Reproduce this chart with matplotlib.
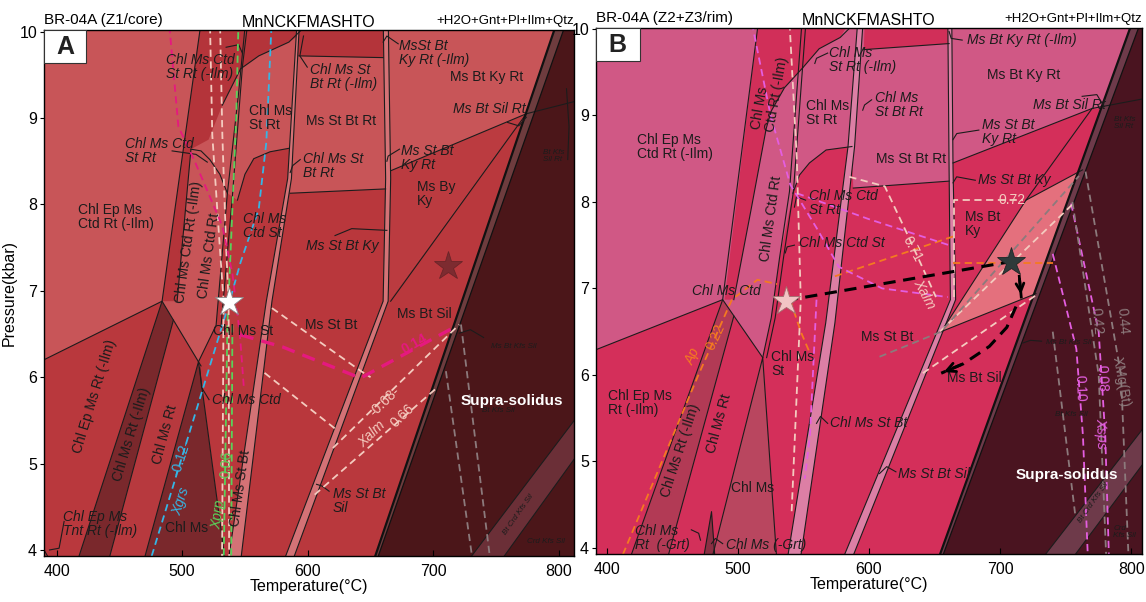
import matplotlib.pyplot as plt
from matplotlib.patches import Polygon, Rectangle

plt.rcParams['font.family'] = ['Liberation Sans', 'DejaVu Sans']

T_TICKS = [400, 500, 600, 700, 800]
P_TICKS = [4, 5, 6, 7, 8, 9, 10]

# ---------------- panel A : BR-04A (Z1/core) ----------------
A_FIELDS = {
    'ep_rt':     [(380, 3.8), (380, 6.13), (484, 6.88), (415, 3.8)],
    'ms_rt_ilm': [(415, 3.8), (484, 6.88), (493, 6.66), (440, 3.8)],
    'ms_rt':     [(440, 3.8), (493, 6.66), (513, 6.18), (468, 3.8)],
    'chl_ms':    [(468, 3.8), (513, 6.18), (535, 3.8)],
    'st_bt':     [(535, 3.8), (513, 6.18), (527, 6.6), (536, 8.13), (544, 8.05), (550, 8.35),
                  (557, 8.53), (570, 8.61), (585, 8.65), (586, 8.13), (664, 8.18), (664, 6.88), (586, 3.8)],
    'ctd_strip': [(484, 6.88), (514, 10.0), (516, 10.2), (600, 10.2), (597, 10.0), (585, 9.88),
                  (561, 9.72), (546.5, 9.57), (532, 9.15), (521, 8.75), (507, 8.64), (496, 6.88)],
    'top_box':   [(591, 9.72), (662, 9.70), (662, 10.2), (593, 10.2)],
    'bt_ky':     [(664, 6.88), (666, 8.39), (774, 9.05)],
    'bt_sil':    [(586, 3.8), (664, 6.88), (774, 9.05), (650.7, 3.8)],
    'melt':      [(650.7, 3.8), (800.5, 10.2), (820, 10.2), (820, 3.8)],
    'melt_edge': [(650.7, 3.8), (800.5, 10.2), (808, 10.2), (653, 3.8)],
    'crd':       [(723.7, 3.8), (820, 5.65), (820, 5.21), (750, 3.8)],
}
A_COLORS = {
    'bg': '#c85558', 'ep_rt': '#b9383d', 'ms_rt_ilm': '#7a282c', 'ms_rt': '#b7393e',
    'chl_ms': '#7a282c', 'st_bt': '#b9373c', 'ctd_strip': '#b4343a', 'top_box': '#b4343a',
    'bt_ky': '#bb3b40', 'bt_sil': '#b9383d', 'melt': '#4b1619', 'melt_edge': '#6e3c3e',
    'crd': '#6b2f37', 'strip': '#d47276',
}
A_STRIPS = [
    ([(536, 3.8), (567, 6.88), (584, 8.3), (591, 10), (592, 10.2)],
     [(546, 3.8), (571.5, 6.88), (587, 8.3), (593, 10), (594, 10.2)]),
    ([(579, 3.8), (660, 6.88), (662, 8.3), (660, 10.2)],
     [(586, 3.8), (664, 6.88), (666, 8.3), (664, 10.2)]),
]
A_BOUNDS = [
    [(415, 3.8), (484, 6.88), (514, 10.0), (516, 10.2)],
    [(440, 3.8), (493, 6.66)],
    [(496, 6.88), (507, 8.64)],
    [(380, 6.13), (484, 6.88), (515, 6.13)],
    [(468, 3.8), (513, 6.18), (535, 3.8)],
    [(513, 6.18), (527, 6.6), (536, 8.13), (545, 9.3), (551, 10.2)],
    [(531, 6.6), (540, 8.1), (548, 9.6), (553, 10.2)],
    [(507, 8.64), (515, 8.62), (522, 8.52), (530, 8.35), (536, 8.13)],
    [(532, 9.15), (546.5, 9.57), (561, 9.72), (585, 9.88), (597, 10.05), (598, 10.2)],
    [(544, 8.05), (550, 8.35), (557, 8.53), (570, 8.61), (585, 8.65)],
    [(586, 8.13), (662, 8.18)],
    [(593, 9.72), (660, 9.70)],
    [(666, 8.39), (774, 9.05), (820, 9.22)],
    [(666, 6.88), (774, 9.05)],
    [(723.7, 3.8), (820, 5.65)],
    [(750, 3.8), (820, 5.21)],
    [(380, 4.25), (398, 3.8)],
]
A_LEADERS = [
    [(535, 9.82), (545, 9.85), (548, 9.75)],
    [(672, 9.86), (663, 9.95), (660, 9.88)],
    [(599.6, 9.59), (593.7, 9.72), (596.6, 9.95)],
    [(759, 8.95), (768, 8.91), (774, 9.01)],
    [(594, 8.52), (588, 8.45), (586, 8.37)],
    [(673, 8.64), (664, 8.56), (663, 8.5)],
    [(621.7, 7.64), (635, 7.72), (663, 7.70)],
    [(521.4, 5.74), (515.5, 5.88), (514, 6.11)],
    [(740, 6.46), (729.5, 6.55), (720.6, 6.51)],
    [(617, 4.68), (611.4, 4.74), (607, 4.76)],
    [(406, 4.33), (402, 4.02), (394.4, 4.0)],
    [(806, 9.34), (808, 8.9), (807, 8.52)],
    [(492, 8.62), (511, 8.58), (520, 8.49)],
]
A_ISO = [
    ('cyan',  [(473, 3.8), (537.6, 6.87), (546.5, 7.33), (561, 7.95), (567, 8.72), (571.5, 10.2)]),
    ('green', [(533, 3.8), (536, 6.6), (539, 7.6), (543, 9.0), (545, 10.2)]),
    ('green', [(539, 3.8), (540, 6.6)]),
    ('pale',  [(522, 10.2), (524, 8.8), (530, 7.5), (533, 6.88), (531.7, 3.8)]),
    ('pale',  [(530, 10.2), (532, 8.8), (535, 7.5), (537, 6.88), (537.4, 3.8)]),
    ('pale',  [(571.5, 6.8), (642.4, 6.07), (650, 6.0)]),
    ('pale',  [(565.6, 6.05), (623, 5.39)]),
    ('pale',  [(620, 5.18), (720.6, 6.61)]),
    ('pale',  [(605.5, 4.64), (703, 5.88)]),
    ('magenta', [(489, 10.2), (497, 8.9), (510, 8.5), (532, 7.75), (540, 7.2), (546, 6.49), (549, 5.9)]),
    ('grey',  [(710, 6.07), (732, 3.8)]),
    ('grey',  [(722, 6.61), (746, 3.8)]),
]
A_ISO_BOLD = [('magenta', [(546.5, 6.49), (580, 6.35), (642, 5.99), (718, 6.59)])]
A_LABELS = [
    ('Chl Ms Ctd\nSt Rt (-Ilm)', 514.6, 9.59, 0, 'i'),
    ('Chl Ms\nSt Rt', 570, 9.0, 0, 'n'),
    ('Chl Ms St\nBt Rt (-Ilm)', 628.5, 9.48, 0, 'i'),
    ('MsSt Bt\nKy Rt (-Ilm)', 700.5, 9.75, 0, 'i'),
    ('Ms Bt Ky Rt', 742.8, 9.47, 0, 'n'),
    ('Ms Bt Sil Rt', 744.8, 9.10, 0, 'i'),
    ('Ms St Bt Rt', 626.7, 8.97, 0, 'n'),
    ('Chl Ms Ctd\nSt Rt', 481.5, 8.62, 0, 'i'),
    ('Chl Ms St\nBt Rt', 620.3, 8.45, 0, 'i'),
    ('Ms St Bt\nKy Rt', 695.5, 8.54, 0, 'i'),
    ('Ms By\nKy', 702, 8.12, 0, 'n'),
    ('Chl Ep Ms\nCtd Rt (-Ilm)', 447.6, 7.85, 0, 'n'),
    ('Chl Ms Ctd Rt (-Ilm)', 505, 7.56, 82, 'n'),
    ('Chl Ms Ctd Rt', 521.4, 7.41, 82, 'n'),
    ('Chl Ms\nCtd St', 565.6, 7.75, 0, 'i'),
    ('Ms St Bt Ky', 627.6, 7.52, 0, 'i'),
    ('Chl Ms St', 548.5, 6.53, 0, 'n'),
    ('Ms St Bt', 618.8, 6.60, 0, 'n'),
    ('Ms Bt Sil', 692.6, 6.73, 0, 'n'),
    ('Ms Bt Kfs Sil', 764, 6.36, 0, 't'),
    ('Chl Ms Ctd', 551, 5.74, 0, 'i'),
    ('Chl Ep Ms Rt (-Ilm)', 430, 5.78, 73, 'n'),
    ('Chl Ms Rt (-Ilm)', 459.4, 5.34, 73, 'n'),
    ('Chl Ms Rt', 486, 5.34, 75, 'n'),
    ('Chl Ms', 503.7, 4.25, 0, 'n'),
    ('Chl Ep Ms\nTnt Rt (-Ilm)', 434.3, 4.30, 0, 'i'),
    ('Chl Ms St Bt', 546.5, 4.72, 82, 'n'),
    ('Ms St Bt\nSil', 641, 4.57, 0, 'i'),
    ('Bt Kfs Sil', 751.6, 5.61, 0, 't'),
    ('Supra-solidus', 762.5, 5.73, 0, 'melt'),
    ('Bt Crd Kfs Sil', 768, 4.41, 55, 't'),
    ('Crd Kfs Sil', 790, 4.1, 0, 't'),
    ('Bt Kfs\nSil Rt', 796, 8.56, 0, 't'),
    ('Xgrs', 499, 4.56, 72, 'cyan_i'),
    ('-0.12-', 499.5, 5.07, 72, 'cyan'),
    ('Xprp', 528.7, 4.41, 82, 'green_i'),
    ('0.06', 535, 4.99, 86, 'green'),
    ('Xalm', 651, 5.34, 44, 'pale_i'),
    ('-0.68-', 661.6, 5.72, 44, 'pale'),
    ('0.66', 675, 5.55, 44, 'pale'),
    ('0.14', 685, 6.38, 29, 'magenta_b'),
]
A_STARS = [(537.5, 6.87, 'white', '#8a8a8a'), (711.8, 7.29, '#7d2b30', '#6a2428')]

# ---------------- panel B : BR-04A (Z2+Z3/rim) ----------------
B_FIELDS = {
    'ep_rt':     [(380, 3.8), (380, 6.22), (488.5, 6.87), (416, 3.8)],
    'ms_rt_ilm': [(416, 3.8), (488.5, 6.87), (497, 6.68), (445, 3.8)],
    'ms_rt':     [(445, 3.8), (497, 6.68), (519, 6.2), (479, 3.8)],
    'chl_ms':    [(479, 3.8), (519, 6.2), (530, 3.8)],
    'grt_out':   [(473, 3.8), (480, 4.42), (483, 3.8)],
    'st_bt':     [(530, 3.8), (519, 6.2), (525.5, 6.66), (531.8, 7.35), (542, 8.1), (547, 8.31),
                  (554.6, 8.45), (567.3, 8.6), (587, 8.64), (588, 8.16), (663, 8.24), (666, 6.87), (588, 3.8)],
    'ctd_strip': [(489.9, 6.87), (515.2, 10.02), (516, 10.2), (590, 10.2), (578, 9.9), (562, 9.77),
                  (549.5, 9.55), (535.6, 9.32), (525.5, 9.05), (521.7, 8.85), (510, 7.9), (497, 6.87)],
    'top_box':   [(596, 9.76), (661, 9.83), (661, 10.2), (597, 10.2)],
    'bt_ky':     [(655, 6.5), (663, 6.87), (664, 8.45), (770, 9.08), (719.6, 8.02)],
    'bt_sil':    [(585, 3.8), (655, 6.5), (719.6, 8.02), (770, 9.08), (776.8, 9.08), (651.1, 3.8)],
    'sil_hi':    [(654.9, 6.50), (719.6, 8.02), (762.7, 8.37), (727.2, 6.94)],
    'melt':      [(651.1, 3.8), (803.5, 10.2), (820, 10.2), (820, 3.8)],
    'melt_edge': [(651.1, 3.8), (803.5, 10.2), (810, 10.2), (653.5, 3.8)],
    'crd':       [(728, 3.8), (820, 5.6), (820, 5.2), (751, 3.8)],
}
B_COLORS = {
    'bg': '#d05885', 'ep_rt': '#d42f5a', 'ms_rt_ilm': '#b23a55', 'ms_rt': '#d3305a',
    'chl_ms': '#b9465f', 'grt_out': '#8a2f43', 'st_bt': '#d42f5a', 'ctd_strip': '#d12f59',
    'top_box': '#d12f59', 'bt_ky': '#d42f5a', 'bt_sil': '#d42f5a', 'sil_hi': '#e4707d',
    'melt': '#4a1420', 'melt_edge': '#6e3a4a', 'crd': '#6e3a4a', 'strip': '#dc7fa5',
}
B_STRIPS = [
    ([(537, 3.8), (567, 6.6), (584, 8.64), (592, 10.2)],
     [(547, 3.8), (574, 6.6), (589, 8.64), (596, 10.2)]),
    ([(578, 3.8), (662, 6.87), (661, 8.4), (660, 10.2)],
     [(585, 3.8), (666, 6.87), (664, 8.4), (663, 10.2)]),
]
B_BOUNDS = [
    [(416, 3.8), (488.5, 6.87), (515.2, 10.02), (516, 10.2)],
    [(445, 3.8), (497, 6.68)],
    [(497, 6.87), (510, 7.9), (521.7, 8.85), (525.5, 9.05), (535.6, 9.32), (549.5, 9.55)],
    [(549.5, 9.55), (562, 9.77), (578, 9.9), (588, 10.05), (590, 10.2)],
    [(380, 6.22), (488.5, 6.87), (519, 6.2)],
    [(479, 3.8), (519, 6.2), (530, 3.8)],
    [(473, 3.8), (480, 4.42), (483, 3.8)],
    [(519, 6.2), (525.5, 6.66), (531.8, 7.35), (539.4, 8.12), (549.5, 10.2)],
    [(522, 6.2), (528.5, 6.66), (534.8, 7.35), (542.4, 8.12), (552.5, 10.2)],
    [(542, 8.1), (547, 8.31), (554.6, 8.45), (567.3, 8.6), (587, 8.64)],
    [(588, 8.16), (661, 8.24)],
    [(596, 9.76), (661, 9.83)],
    [(664, 8.45), (770, 9.08), (812, 9.2)],
    [(655, 6.5), (719.6, 8.02), (770, 9.08)],
    [(719.6, 8.02), (762.7, 8.37)],
    [(654.9, 6.5), (727.2, 6.94)],
    [(728, 3.8), (820, 5.6)],
    [(751, 3.8), (820, 5.2)],
]
B_LEADERS = [
    [(568.5, 9.72), (560, 9.66), (558.7, 9.6)],
    [(671, 9.87), (662.6, 9.89), (661, 9.97)],
    [(602, 9.18), (596.6, 9.12), (595.2, 9.06)],
    [(683.7, 8.83), (666.9, 8.79), (664, 8.72)],
    [(762.4, 9.22), (773.6, 9.24), (779.2, 9.1)],
    [(681, 8.25), (666.8, 8.29), (664, 8.22)],
    [(551.7, 8.02), (544.7, 8.06), (543.2, 7.94)],
    [(543.2, 7.5), (537.6, 7.48), (536.2, 7.41)],
    [(568.5, 5.44), (563, 5.52), (560, 5.44)],
    [(620.5, 4.88), (613.5, 4.94), (608, 4.86)],
    [(464.6, 4.21), (470.2, 4.17), (471.6, 4.09)],
    [(488.5, 4.05), (482.9, 4.11), (480, 4.05)],
    [(731.5, 6.39), (723, 6.40), (717.4, 6.37)],
]
B_ISO = [
    ('orange', [(409, 3.8), (470, 6.0), (495.5, 6.87), (515, 7.1), (530, 7.05)]),
    ('orange', [(537, 7.0), (548, 6.5), (555, 6.25)]),
    ('orange', [(574, 7.14), (664, 7.6)]),
    ('orange', [(664, 7.29), (740, 7.29)]),
    ('lilac',  [(509, 10.2), (525, 9.0), (540, 8.2), (560, 7.7), (577, 7.25), (610, 7.0), (660, 6.9)]),
    ('lilac',  [(545, 8.1), (600, 7.8), (661, 7.5)]),
    ('lilac',  [(560, 6.87), (555, 5.3), (551, 4.8)]),
    ('lilac',  [(740, 7.4), (758, 6.3), (763, 5.3), (767, 3.8)]),
    ('lilac',  [(754, 7.98), (775, 6.5), (780, 5.3), (783, 3.8)]),
    ('pale',   [(585, 8.29), (612, 8.18), (630, 7.6), (651, 6.9)]),
    ('pale',   [(665, 6.9), (665, 8.02), (717, 8.02)]),
    ('pale',   [(641, 6.02), (729, 6.94)]),
    ('pale',   [(654, 6.5), (757, 8.0)]),
    ('pale',   [(539, 10.2), (545, 8.5), (548, 6.87), (541, 4.4)]),
    ('grey',   [(755, 8.0), (775, 6.0), (781, 3.8)]),
    ('grey',   [(765, 8.35), (792, 6.0), (798, 3.8)]),
    ('grey',   [(608, 6.21), (655, 6.5), (760, 8.3)]),
    ('grey',   [(740, 6.5), (757, 4.4)]),
]
B_ISO_BOLD = []
B_LABELS = [
    ('Chl Ep Ms\nCtd Rt (-Ilm)', 452.5, 8.64, 0, 'n'),
    ('Chl Ms\nCtd Rt (-Ilm)', 524.2, 9.26, 80, 'n'),
    ('Chl Ms\nSt Rt (-Ilm)', 595.2, 9.64, 0, 'i'),
    ('Ms Bt Ky Rt (-Ilm)', 716.6, 9.87, 0, 'i'),
    ('Ms Bt Ky Rt', 718, 9.47, 0, 'n'),
    ('Chl Ms\nSt Rt', 568.5, 9.03, 0, 'n'),
    ('Chl Ms\nSt Bt Rt', 622.5, 9.12, 0, 'i'),
    ('Ms Bt Sil Rt', 752.5, 9.12, 0, 'i'),
    ('Ms St Bt\nKy Rt', 706.2, 8.81, 0, 'i'),
    ('Ms St Bt Rt', 631.7, 8.49, 0, 'n'),
    ('Bt Kfs\nSil Rt', 794.7, 8.91, 0, 't'),
    ('Chl Ms Ctd Rt', 525, 7.81, 82, 'n'),
    ('Ms St Bt Ky', 711, 8.25, 0, 'i'),
    ('Chl Ms Ctd\nSt Rt', 580.3, 7.99, 0, 'i'),
    ('Ms Bt\nKy', 686.5, 7.75, 0, 'n'),
    ('Chl Ms Ctd St', 579, 7.52, 0, 'i'),
    ('Chl Ms Ctd', 491.3, 6.97, 0, 'i'),
    ('Ms St Bt', 613.5, 6.44, 0, 'n'),
    ('Chl Ms\nSt', 541.8, 6.13, 0, 'n'),
    ('Ms Bt Sil', 680, 5.96, 0, 'n'),
    ('Ms Bt Kfs Sil', 752.5, 6.37, 0, 't'),
    ('Chl Ep Ms\nRt (-Ilm)', 425.8, 5.67, 0, 'n'),
    ('Chl Ms Rt (-Ilm)', 456.2, 5.13, 72, 'n'),
    ('Chl Ms Rt', 485.7, 5.44, 75, 'n'),
    ('Chl Ms St Bt', 599.4, 5.44, 0, 'i'),
    ('Ms St Bt Sil', 649.2, 4.86, 0, 'i'),
    ('Chl Ms', 511.5, 4.69, 0, 'n'),
    ('Chl Ms\nRt  (-Grt)', 442.7, 4.12, 0, 'i'),
    ('Chl Ms (-Grt)', 521.4, 4.03, 0, 'i'),
    ('Bt Kfs Sil', 754, 5.54, 0, 't'),
    ('Supra-solidus', 751.1, 4.84, 0, 'melt'),
    ('Crd\nKfs Sil', 794.7, 4.19, 0, 't'),
    ('Bt Crd Kfs Sil', 770.8, 4.52, 55, 't'),
    ('0.72', 709, 8.02, 0, 'pale'),
    ('0.71', 633.3, 7.45, -62, 'pale'),
    ('Xalm', 642.2, 6.94, -62, 'pale_i'),
    ('Ap', 466, 6.21, 65, 'orange_i'),
    ('0.22', 482.9, 6.44, 65, 'orange'),
    ('0.10', 761, 5.85, -88, 'lilac'),
    ('0.08', 777.8, 5.96, -88, 'lilac'),
    ('Xsps', 776.4, 5.33, -88, 'lilac_i'),
    ('0.42', 773.6, 6.62, -85, 'grey'),
    ('0.44', 793.3, 6.62, -85, 'grey'),
    ('XMg(Bt)', 792, 5.92, -80, 'grey'),
]
B_STARS = [(536.5, 6.86, '#f2c4c4', '#a07070'), (708.2, 7.31, '#2f3a3a', '#1e2626')]
B_PATH = [(536.5, 6.86), (708.2, 7.31)]
B_DROP = [(714.5, 7.14), (716, 6.9)]
B_CURVE = [(712, 6.79), (705, 6.55), (691.7, 6.33), (672, 6.13), (655, 6.02)]

ISO_COLORS = {'cyan': '#35b6e6', 'green': '#5ad15a', 'pale': '#f4cbbf', 'magenta': '#e5197f',
              'grey': '#8c7a7c', 'orange': '#f47a20', 'lilac': '#e45ee0'}
INK = '#1c1c1c'
FS = 10


def label_style(kind):
    if kind == 'n':
        return dict(fontsize=FS, color=INK)
    if kind == 'i':
        return dict(fontsize=FS, color=INK, style='italic')
    if kind == 't':
        return dict(fontsize=5.8, color=INK, style='italic')
    if kind == 'melt':
        return dict(fontsize=11, color='white', weight='bold')
    base = kind.split('_')[0]
    kw = dict(fontsize=FS, color=ISO_COLORS[base])
    if kind.endswith('_i'):
        kw['style'] = 'italic'
    if kind.endswith('_b'):
        kw['weight'] = 'bold'
    return kw


def xy(pts):
    return [p[0] for p in pts], [p[1] for p in pts]


def draw_panel(ax, fields, colors, strips, bounds, leaders, isos, iso_bold, labels, stars, xlim, ylim):
    ax.set_facecolor(colors['bg'])
    for key, pts in fields.items():
        ax.add_patch(Polygon(pts, closed=True, facecolor=colors[key], edgecolor='none', zorder=1))
    for left, right in strips:
        ax.add_patch(Polygon(left + right[::-1], closed=True, facecolor=colors['strip'],
                             edgecolor='none', zorder=2))
        for edge in (left, right):
            ax.plot(*xy(edge), color=INK, lw=0.8, zorder=3)
    for pts in bounds:
        ax.plot(*xy(pts), color=INK, lw=0.8, zorder=3)
    melt = fields['melt']
    ax.plot(*xy(melt[:2]), color='#111111', lw=1.6, zorder=3)
    edge = fields['melt_edge']
    ax.plot(*xy([edge[3], edge[2]]), color='#111111', lw=0.9, zorder=3)
    for pts in leaders:
        ax.plot(*xy(pts), color=INK, lw=0.8, zorder=3)
    for name, pts in isos:
        ax.plot(*xy(pts), color=ISO_COLORS[name], lw=1.3, dashes=(4, 2.5), zorder=4)
    for name, pts in iso_bold:
        ax.plot(*xy(pts), color=ISO_COLORS[name], lw=2.4, dashes=(4, 2.5), zorder=4)
    for text, t, p, rot, kind in labels:
        ax.text(t, p, text, rotation=rot, ha='center', va='center', multialignment='left',
                rotation_mode='anchor', linespacing=1.0, zorder=5, **label_style(kind))
    for t, p, fc, ec in stars:
        ax.plot(t, p, marker='*', ms=21, mfc=fc, mec=ec, mew=0.6, zorder=7)

    ax.set_xlim(*xlim)
    ax.set_ylim(*ylim)
    ax.set_xticks(T_TICKS)
    ax.set_yticks(P_TICKS)
    ax.tick_params(axis='x', direction='in', length=4, labelsize=11.5, pad=6)
    ax.tick_params(axis='y', direction='out', length=3, labelsize=11.5, pad=2)
    for s in ax.spines.values():
        s.set_linewidth(1.0)
        s.set_zorder(8)
    ax.set_xlabel('Temperature(°C)', fontsize=11.5, labelpad=0)


fig = plt.figure(figsize=(11.46, 6.02), dpi=100)
ax_a = fig.add_axes([0.0384, 0.0764, 0.4625, 0.8738])
ax_b = fig.add_axes([0.5201, 0.0797, 0.4764, 0.8738])

draw_panel(ax_a, A_FIELDS, A_COLORS, A_STRIPS, A_BOUNDS, A_LEADERS, A_ISO, A_ISO_BOLD,
           A_LABELS, A_STARS, (390, 812), (3.93, 10.02))
draw_panel(ax_b, B_FIELDS, B_COLORS, B_STRIPS, B_BOUNDS, B_LEADERS, B_ISO, B_ISO_BOLD,
           B_LABELS, B_STARS, (392, 808), (3.93, 10.01))
ax_a.set_ylabel('Pressure(kbar)', fontsize=11.5, labelpad=2)

# P-T path on the rim panel
ax_b.plot(*xy(B_PATH), color='black', lw=2.2, dashes=(4, 2.5), zorder=6)
ax_b.plot(*xy(B_DROP), color='black', lw=2.0, zorder=6)
ax_b.annotate('', xy=B_DROP[1], xytext=B_DROP[0], zorder=6,
              arrowprops=dict(arrowstyle='->', lw=2.0, color='black', mutation_scale=14))
ax_b.plot(*xy(B_CURVE), color='black', lw=2.2, dashes=(4, 2.5), zorder=6)
ax_b.annotate('', xy=B_CURVE[-1], xytext=B_CURVE[-2], zorder=6,
              arrowprops=dict(arrowstyle='->', lw=2.0, color='black', mutation_scale=16))

for ax, letter, sample in ((ax_a, 'A', 'BR-04A (Z1/core)'), (ax_b, 'B', 'BR-04A (Z2+Z3/rim)')):
    ax.add_patch(Rectangle((0, 0.937), 0.08, 0.063, transform=ax.transAxes, facecolor='white',
                           edgecolor='#333333', lw=0.8, zorder=9))
    ax.text(0.04, 0.968, letter, transform=ax.transAxes, ha='center', va='center',
            fontsize=18, weight='bold', color='#222222', zorder=10)
    ax.text(0.0, 1.006, sample, transform=ax.transAxes, ha='left', va='bottom', fontsize=11)
    ax.text(0.5, 1.0, 'MnNCKFMASHTO', transform=ax.transAxes, ha='center', va='bottom', fontsize=11.5)
    ax.text(1.0, 1.006, '+H2O+Gnt+Pl+Ilm+Qtz', transform=ax.transAxes, ha='right', va='bottom',
            fontsize=9.5)

fig.savefig('out.png', dpi=100)
